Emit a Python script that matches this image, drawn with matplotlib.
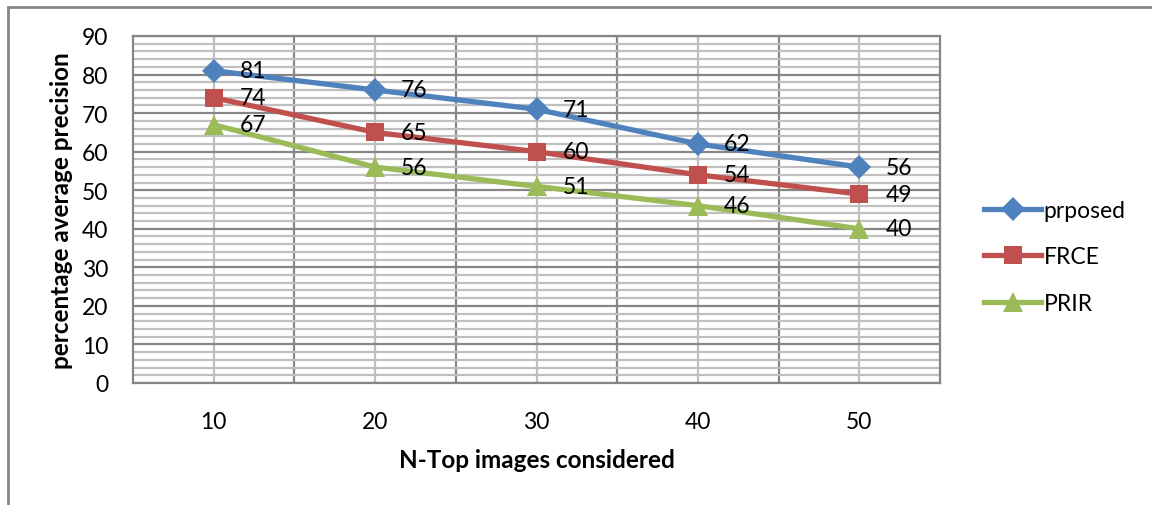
import matplotlib.pyplot as plt
from matplotlib.patches import Rectangle
from matplotlib.ticker import MultipleLocator, FixedLocator

plt.rcParams['font.family'] = ['Lato', 'DejaVu Sans']

# precision (%) for the top-N retrieved images
n_top = [10, 20, 30, 40, 50]
proposed = [81, 76, 71, 62, 56]
frce = [74, 65, 60, 54, 49]
prir = [67, 56, 51, 46, 40]

series = [
    ('prposed', proposed, '#4F81BD', 'D', 12.5),
    ('FRCE', frce, '#C0504D', 's', 13),
    ('PRIR', prir, '#9BBB59', '^', 14),
]

fig = plt.figure(figsize=(11.52, 5.06), dpi=100)
ax = fig.add_axes([133 / 1152, 1 - 384 / 506, (940 - 133) / 1152, (384 - 37) / 506])

# outer chart border (only top and left edges fall inside the image)
fig.patches.append(Rectangle((8 / 1152, -0.1), 1.2, 1 - 8 / 506 + 0.1,
                             transform=fig.transFigure, fill=False,
                             edgecolor='#868686', linewidth=2))

pos = list(range(1, len(n_top) + 1))

for label, vals, color, marker, ms in series:
    ax.plot(pos, vals, color=color, linewidth=3.8, marker=marker,
            markersize=ms, markeredgewidth=0, label=label, zorder=3)
    for x, v in zip(pos, vals):
        ax.annotate(str(v), (x, v), xytext=(26, 0), textcoords='offset pixels',
                    ha='left', va='center', fontsize=16.5, color='black', zorder=4)

ax.set_xlim(0.5, len(n_top) + 0.5)
ax.set_ylim(0, 90)
ax.xaxis.set_major_locator(FixedLocator(pos))
ax.set_xticklabels([str(n) for n in n_top])
ax.xaxis.set_minor_locator(FixedLocator([p + 0.5 for p in pos[:-1]]))
ax.yaxis.set_major_locator(MultipleLocator(10))
ax.yaxis.set_minor_locator(MultipleLocator(2))

# horizontal grid: darker every 10, lighter every 2
ax.grid(which='major', axis='y', color='#868686', linewidth=1.6, zorder=1)
ax.grid(which='minor', axis='y', color='#bfbfbf', linewidth=1.6, zorder=0)
# vertical grid: light at categories, dark between categories
ax.grid(which='major', axis='x', color='#bfbfbf', linewidth=1.6, zorder=0)
ax.grid(which='minor', axis='x', color='#868686', linewidth=1.6, zorder=1)
ax.set_axisbelow(True)

ax.tick_params(which='both', length=0)
ax.tick_params(axis='y', labelsize=16.5, pad=18)
ax.tick_params(axis='x', labelsize=16.5, pad=20)
for s in ax.spines.values():
    s.set_color('#868686')
    s.set_linewidth(1.6)

ax.set_xlabel('N-Top images considered', fontsize=17.5, fontweight='bold', va='center')
ax.set_ylabel('percentage average precision', fontsize=17.5, fontweight='bold', va='center')
ax.xaxis.set_label_coords(0.5, (384 - 461) / 347)
ax.yaxis.set_label_coords((62 - 133) / 807, 0.5)

ax.legend(loc='center left', bbox_to_anchor=(975 / 1152, 1 - 258 / 506),
          bbox_transform=fig.transFigure, frameon=False, fontsize=16.5,
          handlelength=2.5, handletextpad=0.1, labelspacing=1.1, borderaxespad=0)

fig.savefig('out.png', dpi=100)
